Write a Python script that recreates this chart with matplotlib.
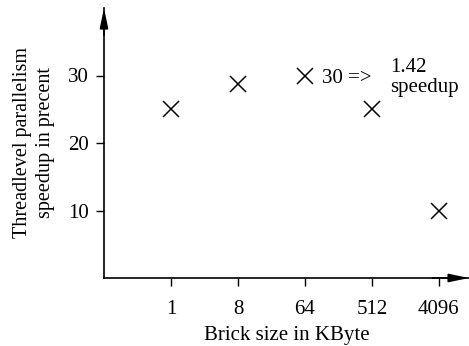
import matplotlib
matplotlib.use('Agg')
import matplotlib.pyplot as plt

plt.rcParams['font.family'] = ['Liberation Serif', 'DejaVu Serif']
plt.rcParams['font.size'] = 15

brick_kb = [1, 8, 64, 512, 4096]
speedup = [25, 28.8, 30, 25, 10]
tick_labels = ['1', '8', '64', '512', '4096']

W, H = 469, 346
fig = plt.figure(figsize=(W / 100, H / 100), dpi=100)
x0, x1 = 104, 469
y0, y1 = 278, 8
ax = fig.add_axes([x0 / W, (H - y0) / H, (x1 - x0) / W, (y0 - y1) / H])

ax.plot(brick_kb, speedup, 'kx', markersize=12, markeredgewidth=1.1)
ax.set_xscale('log', base=2)
ax.set_xlim(2 ** -3.0, 2 ** 13.35)
ax.set_ylim(0, 40)

ax.set_xticks(brick_kb)
ax.set_xticklabels(tick_labels)
ax.minorticks_off()
ax.set_yticks([10, 20, 30])
ax.tick_params(direction='out', length=6, width=1, colors='black')
ax.tick_params(axis='x', pad=9.5)
ax.tick_params(axis='y', pad=5)

for s in ['top', 'right']:
    ax.spines[s].set_visible(False)
for s in ['left', 'bottom']:
    ax.spines[s].set_linewidth(1.2)

# arrow heads on the axes
arrow = dict(arrowstyle='-|>,head_length=1.2,head_width=0.25', color='k',
             lw=1.2, shrinkA=0, shrinkB=0, mutation_scale=10)
ax.annotate('', xy=(0, 1), xytext=(0, 0.9), xycoords='axes fraction',
            arrowprops=arrow, annotation_clip=False)
ax.annotate('', xy=(1, 0), xytext=(0.9, 0), xycoords='axes fraction',
            arrowprops=arrow, annotation_clip=False)

ax.set_xlabel('Brick size in KByte', labelpad=5.5)
ax.set_ylabel('Threadlevel parallelism\nspeedup in precent', labelpad=9.5,
              linespacing=1.25, fontsize=14.5)

ax.text(2 ** 6.76, 29.6, '30 =>', va='center', ha='left')
ax.text(2 ** 9.8, 29.7, '1.42\nspeedup', va='center', ha='left',
        linespacing=1.05)

plt.savefig('out.png', dpi=100)
